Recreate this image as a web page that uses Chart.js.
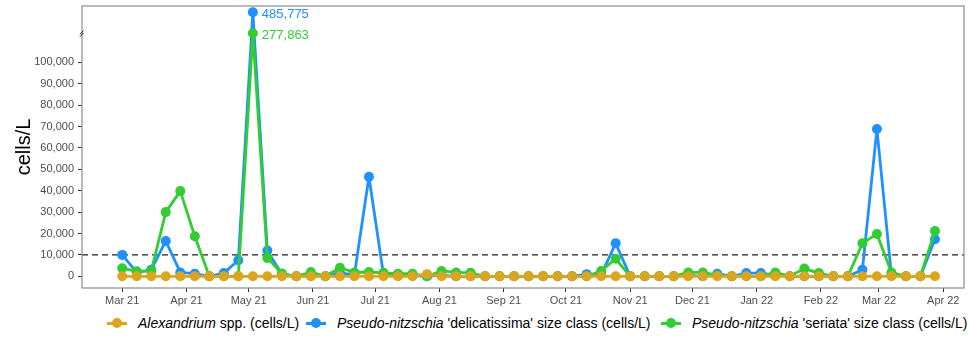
<!DOCTYPE html>
<html>
<head>
<meta charset="utf-8">
<script src="https://cdn.jsdelivr.net/npm/chart.js@4.4.1/dist/chart.umd.min.js"></script>
<style>
  html, body { margin: 0; padding: 0; background: #fff; }
  #wrap { position: relative; width: 969px; height: 350px; font-family: "Liberation Sans", Arial, Helvetica, sans-serif; }
  #chartBox { position: absolute; left: 0; top: 0; width: 969px; height: 310px; }
  .item { position: absolute; top: 314px; height: 18px; line-height: 18px; font-size: 14px; color: #000; white-space: nowrap; }
  .sym { position: absolute; top: 0; width: 20px; height: 18px; }
  .sym .ln { position: absolute; left: 0; top: 8px; width: 20px; height: 2.5px; }
  .sym .dt { position: absolute; left: 5px; top: 4px; width: 10px; height: 10px; border-radius: 50%; }
</style>
</head>
<body>
<div id="wrap">
  <div id="chartBox"><canvas id="c"></canvas></div>
  <div id="legend"></div>
</div>
<script>
// Weekly sampling dates
const DATES = [
  '2021-03-01','2021-03-08','2021-03-15','2021-03-22','2021-03-29',
  '2021-04-05','2021-04-12','2021-04-19','2021-04-26',
  '2021-05-03','2021-05-10','2021-05-17','2021-05-24','2021-05-31',
  '2021-06-07','2021-06-14','2021-06-21','2021-06-28',
  '2021-07-05','2021-07-12','2021-07-19','2021-07-26',
  '2021-08-02','2021-08-09','2021-08-16','2021-08-23','2021-08-30',
  '2021-09-06','2021-09-13','2021-09-20','2021-09-27',
  '2021-10-04','2021-10-11','2021-10-18','2021-10-25',
  '2021-11-01','2021-11-08','2021-11-15','2021-11-22','2021-11-29',
  '2021-12-06','2021-12-13','2021-12-20','2021-12-27',
  '2022-01-03','2022-01-10','2022-01-17','2022-01-24','2022-01-31',
  '2022-02-07','2022-02-14','2022-02-21','2022-02-28',
  '2022-03-07','2022-03-14','2022-03-21','2022-03-28'
];

// Cell counts (cells/L)
const ALEXANDRIUM = [
  0,0,0,0,0, 0,0,0,0, 0,0,0,0,0, 0,0,0,0, 0,0,0,1000,
  0,0,0,0,0, 0,0,0,0, 0,0,0,0, 0,0,0,0,0, 0,0,0,0,
  0,0,0,0,0, 0,0,0,0, 0,0,0,0
];
const PN_DELICATISSIMA = [
  10000,1800,3000,16500,1800, 1200,0,1500,7500,
  485775,12000,1000,0,300, 0,1500,800,46500,
  800,300,300,0, 500,0,0,0,0,
  0,0,0,0, 0,1000,800,15400,
  0,0,0,0,500, 0,1200,0,1500,
  1500,500,0,0,0, 0,0,3000,68800,
  500,0,0,17300
];
const PN_SERIATA = [
  3800,2300,2500,30000,39800, 18700,0,0,0,
  277863,8600,1300,0,2000, 0,4000,1800,2000,
  1600,1200,1200,0, 2500,1800,1600,0,0,
  0,0,0,0, 0,0,2500,8200,
  0,0,0,0,1800, 1800,500,0,0,
  0,1800,0,3600,1500, 0,0,15400,19800,
  1800,0,0,21200
];

const Y_TICKS = [0,10000,20000,30000,40000,50000,60000,70000,80000,90000,100000];
const MONTH_TICKS = ['2021-03-01','2021-04-01','2021-05-01','2021-06-01','2021-07-01','2021-08-01',
  '2021-09-01','2021-10-01','2021-11-01','2021-12-01','2022-01-01','2022-02-01','2022-03-01','2022-04-01'];
const MONTH_LABELS = ['Mar 21','Apr 21','May 21','Jun 21','Jul 21','Aug 21','Sep 21',
  'Oct 21','Nov 21','Dec 21','Jan 22','Feb 22','Mar 22','Apr 22'];
const THRESHOLD = 10000;

const COLORS = { alex: '#DAA520', deli: '#1E90FF', seri: '#32CD32' };
const FONT = '"Liberation Sans", Arial, Helvetica, sans-serif';

// Days since the first sample, used as the x coordinate
const DAY0 = Date.UTC(2021, 2, 1);
const toDay = s => { const [y, m, d] = s.split('-').map(Number); return (Date.UTC(y, m - 1, d) - DAY0) / 86400000; };
const X_DAYS = DATES.map(toDay);
const pts = arr => arr.map((v, i) => ({ x: X_DAYS[i], y: v }));

// Linear axis with a compressed segment above the break
const BREAK_AT = 105400;
const COMPRESS = 0.0472;
const BREAK_MARK_VALUE = 275000;
const squash = v => (v <= BREAK_AT ? v : BREAK_AT + (v - BREAK_AT) * COMPRESS);
const unsquash = t => (t <= BREAK_AT ? t : BREAK_AT + (t - BREAK_AT) / COMPRESS);

class BrokenLinearScale extends Chart.LinearScale {
  getPixelForValue(v) { return super.getPixelForValue(v === null || v === undefined ? v : squash(v)); }
  getValueForPixel(p) { return unsquash(super.getValueForPixel(p)); }
}
BrokenLinearScale.id = 'brokenLinear';
BrokenLinearScale.defaults = Chart.LinearScale.defaults;
Chart.register(BrokenLinearScale);

const panelPlugin = {
  id: 'panel',
  beforeDatasetsDraw(chart) {
    const { ctx, chartArea: a, scales } = chart;
    ctx.save();
    // dashed threshold line
    const yt = scales.y.getPixelForValue(THRESHOLD);
    ctx.strokeStyle = '#222';
    ctx.lineWidth = 1.4;
    ctx.setLineDash([6, 4]);
    ctx.beginPath();
    ctx.moveTo(a.left, yt);
    ctx.lineTo(a.right, yt);
    ctx.stroke();
    ctx.setLineDash([]);
    // panel border
    ctx.strokeStyle = '#8c8c8c';
    ctx.lineWidth = 1.2;
    ctx.strokeRect(a.left, a.top, a.right - a.left, a.bottom - a.top);
    // axis break mark
    const yb = scales.y.getPixelForValue(BREAK_MARK_VALUE);
    ctx.strokeStyle = '#222';
    ctx.lineWidth = 1;
    for (const off of [-1.2, 1.2]) {
      ctx.beginPath();
      ctx.moveTo(a.left - 2, yb + off + 1.8);
      ctx.lineTo(a.left + 1.5, yb + off - 1.8);
      ctx.stroke();
    }
    ctx.restore();
  },
  afterDatasetsDraw(chart) {
    const { ctx } = chart;
    ctx.save();
    ctx.font = '13px ' + FONT;
    ctx.textAlign = 'left';
    ctx.textBaseline = 'middle';
    [1, 2].forEach(di => {
      const ds = chart.data.datasets[di];
      const vals = ds.data.map(p => p.y);
      const mi = vals.indexOf(Math.max(...vals));
      const el = chart.getDatasetMeta(di).data[mi];
      ctx.fillStyle = ds.borderColor;
      ctx.fillText(vals[mi].toLocaleString('en-US'), el.x + 9, el.y + 2);
    });
    ctx.restore();
  }
};

const lineDs = (label, data, color, order) => ({
  label, data: pts(data), borderColor: color, backgroundColor: color,
  pointBackgroundColor: color, pointBorderWidth: 0, pointRadius: 5,
  borderWidth: 2.8, borderJoinStyle: 'round', borderCapStyle: 'round', tension: 0, order
});

new Chart(document.getElementById('c'), {
  type: 'line',
  data: {
    datasets: [
      lineDs('Alexandrium spp. (cells/L)', ALEXANDRIUM, COLORS.alex, 0),
      lineDs("Pseudo-nitzschia 'delicatissima' size class (cells/L)", PN_DELICATISSIMA, COLORS.deli, 2),
      lineDs("Pseudo-nitzschia 'seriata' size class (cells/L)", PN_SERIATA, COLORS.seri, 1)
    ]
  },
  options: {
    responsive: true,
    maintainAspectRatio: false,
    animation: false,
    layout: { padding: { top: 6, right: 4, left: 0, bottom: 0 } },
    plugins: { legend: { display: false }, tooltip: { enabled: false } },
    scales: {
      x: {
        type: 'linear',
        min: -19.4,
        max: 406,
        afterBuildTicks: s => { s.ticks = MONTH_TICKS.map(d => ({ value: toDay(d) })); },
        afterFit: s => { s.height = 22; s.paddingLeft = 0; s.paddingRight = 0; },
        border: { display: false },
        grid: { drawOnChartArea: false, drawTicks: true, tickLength: 4, tickColor: '#333', tickWidth: 1 },
        ticks: {
          autoSkip: false, maxRotation: 0, minRotation: 0, padding: 2,
          color: '#4d4d4d', font: { size: 11, family: FONT },
          callback: (v, i) => MONTH_LABELS[i]
        }
      },
      y: {
        type: 'brokenLinear',
        min: -5470,
        max: 126300,
        afterBuildTicks: s => { s.ticks = Y_TICKS.map(v => ({ value: v })); },
        afterFit: s => { s.width = 82; s.paddingTop = 0; s.paddingBottom = 0; },
        border: { display: false },
        grid: { drawOnChartArea: false, drawTicks: true, tickLength: 4, tickColor: '#333', tickWidth: 1 },
        ticks: {
          padding: 4, color: '#4d4d4d', font: { size: 11, family: FONT },
          callback: v => Number(v).toLocaleString('en-US')
        },
        title: {
          display: true, text: 'cells/L', color: '#000',
          font: { size: 20, family: FONT }, padding: { top: 12, bottom: 0 }
        }
      }
    }
  },
  plugins: [panelPlugin]
});

// Legend with italic genus names
const LEGEND = [
  { color: COLORS.alex, italic: 'Alexandrium', rest: ' spp. (cells/L)', left: 138 },
  { color: COLORS.deli, italic: 'Pseudo-nitzschia', rest: " 'delicatissima' size class (cells/L)", left: 337 },
  { color: COLORS.seri, italic: 'Pseudo-nitzschia', rest: " 'seriata' size class (cells/L)", left: 692 }
];
const legendEl = document.getElementById('legend');
LEGEND.forEach(it => {
  const sym = document.createElement('div');
  sym.className = 'item';
  sym.style.left = (it.left - 31) + 'px';
  sym.innerHTML = '<div class="sym"><div class="ln" style="background:' + it.color +
    '"></div><div class="dt" style="background:' + it.color + '"></div></div>';
  legendEl.appendChild(sym);
  const txt = document.createElement('div');
  txt.className = 'item';
  txt.style.left = it.left + 'px';
  const em = document.createElement('i');
  em.textContent = it.italic;
  txt.appendChild(em);
  txt.appendChild(document.createTextNode(it.rest));
  legendEl.appendChild(txt);
});
</script>
</body>
</html>
